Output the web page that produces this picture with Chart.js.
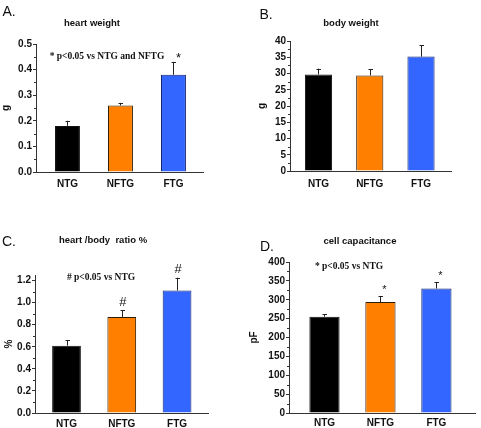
<!DOCTYPE html>
<html lang="en">
<head>
    <meta charset="UTF-8">
    <title>Heart weight, body weight, ratio, capacitance</title>
    <script src="https://cdn.jsdelivr.net/npm/chart.js"></script>
    <style>
        body {
            margin: 0;
            background: #ffffff;
            font-family: "Liberation Sans", Arial, sans-serif;
        }
        .page {
            position: relative;
            width: 481px;
            height: 428px;
            overflow: hidden;
        }
        .box {
            position: absolute;
        }
        .txt {
            position: absolute;
            line-height: 1;
            white-space: nowrap;
            transform: translate(-50%, -50%);
            color: #111;
        }
        .letter { font-size: 14px; }
        .title { font-size: 9.5px; font-weight: bold; }
        .note { font-family: "Liberation Serif", "Times New Roman", serif; font-size: 9.5px; font-weight: bold; }
    </style>
</head>
<body>
<div class="page">
    <div class="box" style="left:0;top:0;width:240px;height:200px"><canvas id="chartA"></canvas></div>
    <div class="box" style="left:240px;top:0;width:241px;height:200px"><canvas id="chartB"></canvas></div>
    <div class="box" style="left:0;top:220px;width:240px;height:208px"><canvas id="chartC"></canvas></div>
    <div class="box" style="left:240px;top:220px;width:241px;height:208px"><canvas id="chartD"></canvas></div>

    <div class="txt letter" style="left:9px;top:11px">A.</div>
    <div class="txt letter" style="left:266px;top:14px">B.</div>
    <div class="txt letter" style="left:9px;top:241px">C.</div>
    <div class="txt letter" style="left:267px;top:246px">D.</div>

    <div class="txt title" style="left:92px;top:23px">heart weight</div>
    <div class="txt title" style="left:351px;top:23px">body weight</div>
    <div class="txt title" style="left:103px;top:240px">heart /body&nbsp; ratio %</div>
    <div class="txt title" style="left:360px;top:241px">cell capacitance</div>

    <div class="txt note" style="left:107px;top:57px">* p&lt;0.05 vs NTG and NFTG</div>
    <div class="txt note" style="left:101px;top:278px"># p&lt;0.05 vs NTG</div>
    <div class="txt note" style="left:349px;top:267px">* p&lt;0.05 vs NTG</div>
</div>

<script>
    // groups
    var categories = ['NTG', 'NFTG', 'FTG'];

    // A. heart weight (g), mean and SEM
    var heartWeight = [0.18, 0.26, 0.38];
    var heartWeightSem = [0.02, 0.01, 0.05];
    var heartWeightMarks = ['', '', '*'];
    var heartWeightTicks = [0, 0.1, 0.2, 0.3, 0.4, 0.5];

    // B. body weight (g)
    var bodyWeight = [29.7, 29.4, 35.2];
    var bodyWeightSem = [1.8, 1.9, 3.5];
    var bodyWeightMarks = ['', '', ''];
    var bodyWeightTicks = [0, 5, 10, 15, 20, 25, 30, 35, 40];

    // C. heart / body ratio (%)
    var heartBodyRatio = [0.61, 0.87, 1.11];
    var heartBodyRatioSem = [0.05, 0.06, 0.115];
    var heartBodyRatioMarks = ['', '#', '#'];
    var heartBodyRatioTicks = [0, 0.2, 0.4, 0.6, 0.8, 1.0, 1.2];

    // D. cell capacitance (pF)
    var capacitance = [255, 294, 330];
    var capacitanceSem = [7, 15, 16];
    var capacitanceMarks = ['', '*', '*'];
    var capacitanceTicks = [0, 50, 100, 150, 200, 250, 300, 350, 400];

    var barColors = ['#000000', '#ff8000', '#3366ff'];
    var barBorders = ['#111111', '#2a1a00', '#10206a'];
    var axisColor = '#333333';

    // error bars (upward only), significance marks and minor ticks
    var extras = {
        id: 'extras',
        afterDatasetsDraw: function (chart) {
            var o = chart.options.plugins.extras;
            var ctx = chart.ctx;
            var yScale = chart.scales.y;
            var bars = chart.getDatasetMeta(0).data;
            ctx.save();
            ctx.strokeStyle = '#222';
            ctx.lineWidth = 1;
            bars.forEach(function (bar, i) {
                var x = Math.round(bar.x) + 0.5;
                var yTop = yScale.getPixelForValue(o.values[i] + o.sem[i]);
                ctx.beginPath();
                ctx.moveTo(x, bar.y);
                ctx.lineTo(x, yTop);
                ctx.moveTo(x - 2, Math.round(yTop) + 0.5);
                ctx.lineTo(x + 2.5, Math.round(yTop) + 0.5);
                ctx.stroke();
                if (o.marks[i]) {
                    ctx.fillStyle = '#111';
                    ctx.font = o.markFont;
                    ctx.textAlign = 'center';
                    ctx.textBaseline = 'middle';
                    ctx.fillText(o.marks[i], bar.x + o.markDx, yTop - o.markDy);
                }
            });
            // minor ticks halfway between the major ones
            var ticks = yScale.ticks;
            ctx.strokeStyle = axisColor;
            for (var k = 0; k < ticks.length - 1; k++) {
                var y = Math.round(yScale.getPixelForValue((ticks[k].value + ticks[k + 1].value) / 2)) + 0.5;
                ctx.beginPath();
                ctx.moveTo(yScale.right - 2, y);
                ctx.lineTo(yScale.right, y);
                ctx.stroke();
            }
            ctx.restore();
        }
    };

    function makePanel(id, values, sem, marks, tickValues, cfg) {
        // groups sit at x = 1, 2, 3 on a linear axis so the empty margins can be set
        var points = values.map(function (v, i) { return { x: i + 1, y: v }; });
        new Chart(document.getElementById(id), {
            type: 'bar',
            data: {
                datasets: [{
                    data: points,
                    backgroundColor: barColors,
                    borderColor: barBorders,
                    borderWidth: 1,
                    barPercentage: cfg.barPct,
                    categoryPercentage: 1.0
                }]
            },
            options: {
                responsive: true,
                maintainAspectRatio: false,
                animation: false,
                layout: { padding: cfg.padding },
                plugins: {
                    legend: { display: false },
                    tooltip: { enabled: false },
                    extras: {
                        values: values, sem: sem, marks: marks,
                        markFont: cfg.markFont, markDx: cfg.markDx, markDy: cfg.markDy
                    }
                },
                scales: {
                    x: {
                        type: 'linear',
                        min: cfg.xMin,
                        max: cfg.xMax,
                        offset: false,
                        afterBuildTicks: function (s) {
                            s.ticks = categories.map(function (c, i) { return { value: i + 1 }; });
                        },
                        grid: { display: false, drawTicks: false },
                        border: { display: true, color: axisColor, width: 1 },
                        ticks: {
                            color: '#111',
                            padding: cfg.xPad,
                            maxRotation: 0,
                            font: { family: '"Liberation Sans", Arial, sans-serif', size: 10, weight: 'bold' },
                            callback: function (v) { return categories[Math.round(v) - 1]; }
                        },
                        afterFit: function (s) { s.height = cfg.xHeight; }
                    },
                    y: {
                        min: 0,
                        max: cfg.max,
                        afterBuildTicks: function (s) {
                            s.ticks = tickValues.map(function (v) { return { value: v }; });
                        },
                        grid: {
                            display: true,
                            drawOnChartArea: false,
                            drawTicks: true,
                            tickLength: 3,
                            color: axisColor
                        },
                        border: { display: true, color: axisColor, width: 1 },
                        ticks: {
                            color: '#111',
                            padding: 1,
                            font: { family: '"Liberation Sans", Arial, sans-serif', size: 10, weight: 'bold' },
                            callback: function (v) { return cfg.fmt(v); }
                        },
                        title: {
                            display: true,
                            text: cfg.yTitle,
                            color: '#111',
                            padding: 0,
                            font: { family: '"Liberation Sans", Arial, sans-serif', size: 10, weight: 'bold' }
                        },
                        afterFit: function (s) { s.width = cfg.yWidth; }
                    }
                }
            },
            plugins: [extras]
        });
    }

    makePanel('chartA', heartWeight, heartWeightSem, heartWeightMarks, heartWeightTicks, {
        max: 0.5, yTitle: 'g', yWidth: 36, xHeight: 28, xPad: 6, barPct: 0.47,
        xMin: 0.406, xMax: 3.557,
        padding: { left: 0, right: 37, top: 44, bottom: 0 },
        fmt: function (v) { return v.toFixed(1); },
        markFont: '13px "Liberation Sans", Arial, sans-serif', markDx: 5, markDy: 3
    });

    makePanel('chartB', bodyWeight, bodyWeightSem, bodyWeightMarks, bodyWeightTicks, {
        max: 40, yTitle: 'g', yWidth: 34, xHeight: 29, xPad: 7, barPct: 0.53,
        xMin: 0.444, xMax: 3.585,
        padding: { left: 16, right: 30, top: 41, bottom: 0 },
        fmt: function (v) { return String(v); },
        markFont: '12px sans-serif', markDx: 0, markDy: 8
    });

    makePanel('chartC', heartBodyRatio, heartBodyRatioSem, heartBodyRatioMarks, heartBodyRatioTicks, {
        max: 1.25, yTitle: '%', yWidth: 32, xHeight: 15, xPad: 5, barPct: 0.52,
        xMin: 0.43, xMax: 3.56,
        padding: { left: 3, right: 32, top: 55, bottom: 0 },
        fmt: function (v) { return v.toFixed(1); },
        markFont: '13px "Liberation Sans", Arial, sans-serif', markDx: 1, markDy: 8
    });

    makePanel('chartD', capacitance, capacitanceSem, capacitanceMarks, capacitanceTicks, {
        max: 400, yTitle: 'pF', yWidth: 41, xHeight: 15, xPad: 4, barPct: 0.54,
        xMin: 0.366, xMax: 3.69,
        padding: { left: 8, right: 6, top: 42, bottom: 0 },
        fmt: function (v) { return String(v); },
        markFont: '11px "Liberation Sans", Arial, sans-serif', markDx: 4, markDy: 6
    });
</script>
</body>
</html>
